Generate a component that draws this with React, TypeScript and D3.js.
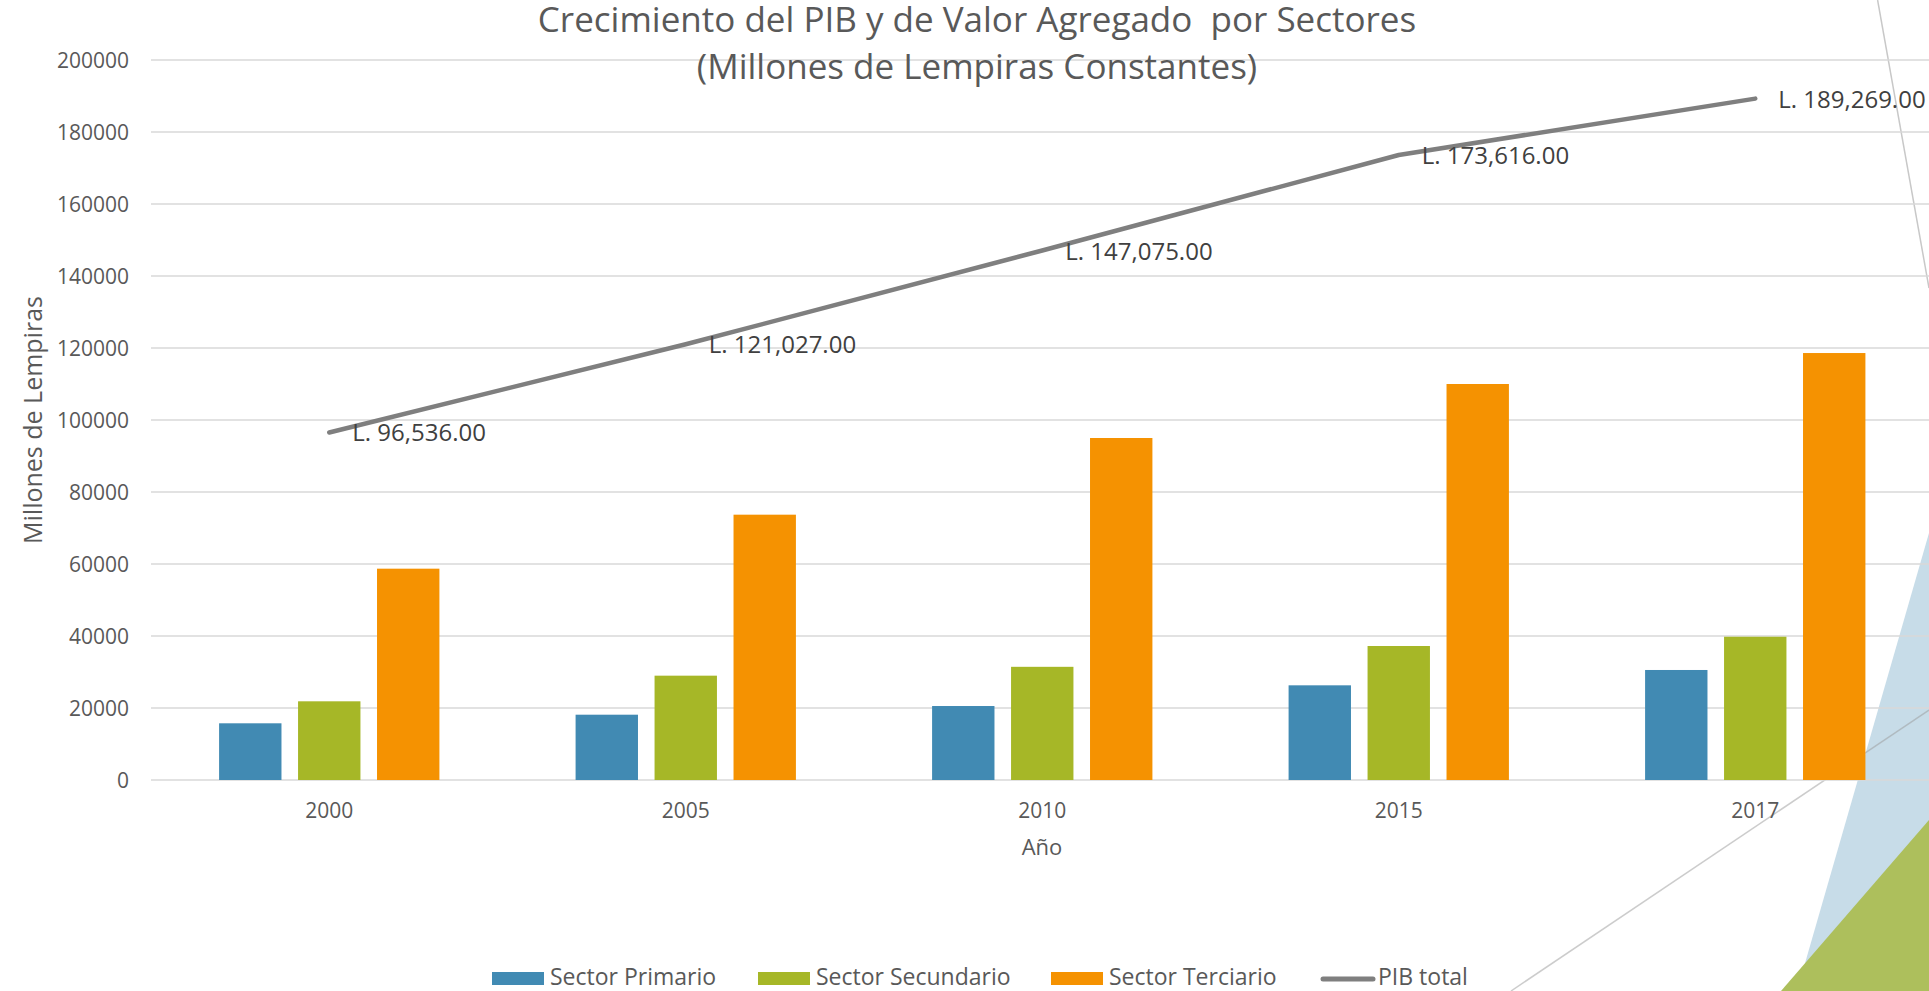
import React from "react";
import * as d3 from "d3";

const years = ["2000", "2005", "2010", "2015", "2017"];
const seriesNames = ["Sector Primario", "Sector Secundario", "Sector Terciario"];
const primario = [15750, 18140, 20550, 26300, 30560];
const secundario = [21860, 28980, 31440, 37220, 39800];
const terciario = [58700, 73700, 95000, 110000, 118600];
const pibTotal = [96536, 121027, 147075, 173616, 189269];
const yTicks = [0, 20000, 40000, 60000, 80000, 100000, 120000, 140000, 160000, 180000, 200000];
const titleLines = ["Crecimiento del PIB y de Valor Agregado  por Sectores", "(Millones de Lempiras Constantes)"];

const W = 1929;
const H = 991;
const FONT = "'Open Sans', 'Noto Sans', sans-serif";
const colors = ["#418AB3", "#A6B727", "#F59201"];
const lineColor = "#7F7F7F";
const textColor = "#595959";

export default function App() {
  const x = d3.scaleBand().domain(years).range([151, 1933.5]).paddingInner(0.382).paddingOuter(0.191);
  const xs = d3.scaleBand().domain(seriesNames).range([0, x.bandwidth()]).paddingInner(0.21).paddingOuter(0);
  const y = d3.scaleLinear().domain([0, 200000]).range([780, 60]);
  const seriesVals = [primario, secundario, terciario];
  const cx = (yr: string) => (x(yr) as number) + x.bandwidth() / 2;
  const line = d3.line<number>().x((_, i) => cx(years[i])).y((d) => y(d));
  const fmt = (v: number) => "L. " + d3.format(",.2f")(v);

  const legendItems = [
    { label: seriesNames[0], x: 492, kind: "rect", color: colors[0] },
    { label: seriesNames[1], x: 758, kind: "rect", color: colors[1] },
    { label: seriesNames[2], x: 1051, kind: "rect", color: colors[2] },
    { label: "PIB total", x: 1320, kind: "line", color: lineColor },
  ];

  return (
    <div style={{ position: "fixed", left: 0, top: 0, width: W, height: H, background: "#fff" }}>
      <svg width={W} height={H} style={{ display: "block" }} fontFamily={FONT}>
        {/* slide decorations */}
        <polygon points="1929,533 1929,991 1797,991" fill="#C7DCE8" />
        <polygon points="1929,820 1929,991 1781,991" fill="#ADBF5C" />
        <line x1={1877.6} y1={0} x2={1929} y2={288} stroke="#C8C8C8" strokeWidth={1.5} />
        <line x1={1511} y1={991} x2={1929} y2={710} stroke="#9A9A9A" strokeOpacity={0.5} strokeWidth={1.5} />

        {/* gridlines */}
        {yTicks.map((t) => (
          <line key={t} x1={151} x2={W} y1={y(t)} y2={y(t)} stroke="#D9D9D9" strokeWidth={1.5} />
        ))}
        {/* y tick labels */}
        {yTicks.map((t) => (
          <text key={"l" + t} x={129} y={y(t) + 7.5} textAnchor="end" fontSize={21} fill={textColor}>
            {t}
          </text>
        ))}

        {/* bars */}
        {years.map((yr, i) => (
          <g key={yr} transform={`translate(${x(yr)},0)`}>
            {seriesNames.map((s, j) => (
              <rect
                key={s}
                x={xs(s)}
                y={y(seriesVals[j][i])}
                width={xs.bandwidth()}
                height={y(0) - y(seriesVals[j][i])}
                fill={colors[j]}
              />
            ))}
          </g>
        ))}

        {/* x tick labels */}
        {years.map((yr) => (
          <text key={"x" + yr} x={cx(yr)} y={818} textAnchor="middle" fontSize={21} fill={textColor}>
            {yr}
          </text>
        ))}

        {/* PIB line */}
        <path d={line(pibTotal) as string} fill="none" stroke={lineColor} strokeWidth={4.5} strokeLinecap="round" strokeLinejoin="round" />
        {pibTotal.map((v, i) => (
          <text key={"d" + i} x={cx(years[i]) + 23} y={y(v) + 9} fontSize={24} fill="#404040">
            {fmt(v)}
          </text>
        ))}

        {/* axis titles */}
        <text x={1042} y={855} textAnchor="middle" fontSize={22} fill={textColor}>
          Año
        </text>
        <text transform="translate(42,420) rotate(-90)" textAnchor="middle" fontSize={25} fill={textColor}>
          Millones de Lempiras
        </text>

        {/* title */}
        {titleLines.map((t, i) => (
          <text key={t} x={977} y={32 + i * 46.5} textAnchor="middle" fontSize={35} fill={textColor} style={{ whiteSpace: "pre" }}>
            {t}
          </text>
        ))}

        {/* legend */}
        {legendItems.map((it) => (
          <g key={it.label}>
            {it.kind === "rect" ? (
              <rect x={it.x} y={972} width={52} height={13} fill={it.color} />
            ) : (
              <line x1={it.x + 3} x2={it.x + 53} y1={979} y2={979} stroke={it.color} strokeWidth={5} strokeLinecap="round" />
            )}
            <text x={it.x + 58} y={985} fontSize={23} fill={textColor}>
              {it.label}
            </text>
          </g>
        ))}
      </svg>
    </div>
  );
}
